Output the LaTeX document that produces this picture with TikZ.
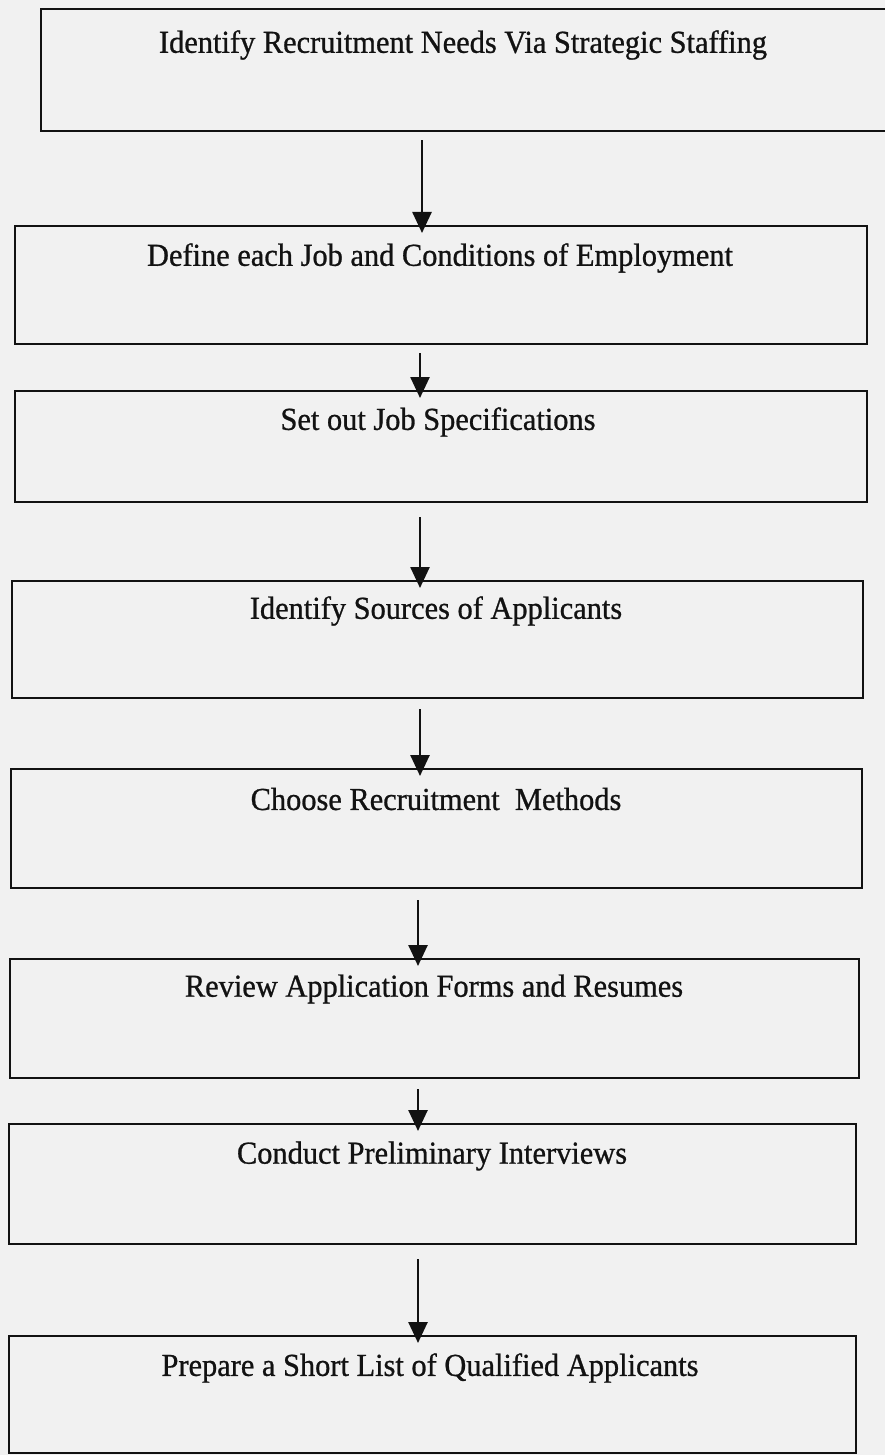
\documentclass[tikz,border=0pt]{standalone}
\usepackage{fontspec}
\setmainfont{Liberation Serif}[FakeStretch=0.95,FakeBold=0.8]
\usetikzlibrary{arrows.meta,calc}
\definecolor{paper}{HTML}{F1F1F1}
\definecolor{ink}{HTML}{121212}
\tikzset{
  stepbox/.style={draw=ink, line width=2.3pt, fill=none, inner sep=0pt},
  steptext/.style={font=\fontsize{32}{37}\selectfont, text=ink, inner sep=0pt, anchor=center},
  flow/.style={draw=ink, line width=2.6pt, -{Triangle[length=21pt,width=19pt]}, shorten <=8pt, shorten >=-8pt}
}
\begin{document}
\begin{tikzpicture}[x=1pt,y=-1pt]
\fill[paper] (0,0) rectangle (885,1455);
\useasboundingbox (0,0) rectangle (885,1455);
\begin{scope}
\clip (0,0) rectangle (885,1455);
% boxes
\node[stepbox, minimum width=852pt, minimum height=122pt, anchor=north west] (b1) at (40,8) {};
\node[stepbox, minimum width=852pt, minimum height=118pt, anchor=north west] (b2) at (14,225) {};
\node[stepbox, minimum width=852pt, minimum height=111pt, anchor=north west] (b3) at (14,390) {};
\node[stepbox, minimum width=851pt, minimum height=117pt, anchor=north west] (b4) at (11,580) {};
\node[stepbox, minimum width=851pt, minimum height=119pt, anchor=north west] (b5) at (10,768) {};
\node[stepbox, minimum width=849pt, minimum height=119pt, anchor=north west] (b6) at (9,958) {};
\node[stepbox, minimum width=847pt, minimum height=120pt, anchor=north west] (b7) at (8,1123) {};
\node[stepbox, minimum width=847pt, minimum height=117pt, anchor=north west] (b8) at (8,1335) {};
% texts
\node[steptext] (t1) at (463,45) {Identify Recruitment Needs Via Strategic Staffing};
\node[steptext] (t2) at (440,258) {Define each Job and Conditions of Employment};
\node[steptext] (t3) at (438,422) {Set out Job Specifications};
\node[steptext] (t4) at (436,611) {Identify Sources of Applicants};
\node[steptext] (t5) at (436,799) {Choose Recruitment\ \ Methods};
\node[steptext] (t6) at (434,989) {Review Application Forms and Resumes};
\node[steptext] (t7) at (432,1156) {Conduct Preliminary Interviews};
\node[steptext] (t8) at (430,1368) {Prepare a Short List of Qualified Applicants};
% arrow columns
\coordinate (c1) at (422,0);
\coordinate (c2) at (420,0);
\coordinate (c3) at (418,0);
\draw[flow] (b1.south -| c1) -- (b2.north -| c1);
\draw[flow] (b2.south -| c2) -- (b3.north -| c2);
\draw[flow, shorten <=14pt] (b3.south -| c2) -- (b4.north -| c2);
\draw[flow, shorten <=10pt] (b4.south -| c2) -- (b5.north -| c2);
\draw[flow, shorten <=11pt] (b5.south -| c3) -- (b6.north -| c3);
\draw[flow, shorten <=10pt] (b6.south -| c3) -- (b7.north -| c3);
\draw[flow, shorten <=14pt] (b7.south -| c3) -- (b8.north -| c3);
\end{scope}
\end{tikzpicture}
\end{document}
